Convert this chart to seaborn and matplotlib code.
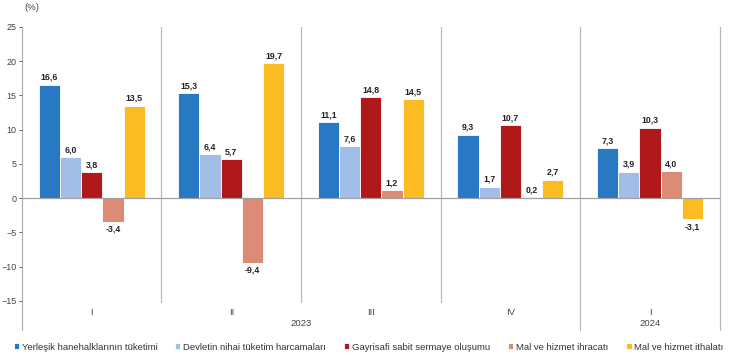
import pandas as pd
import seaborn as sns
import matplotlib.pyplot as plt
import matplotlib.transforms as mtransforms

# Quarterly growth rates of expenditure components (%)
quarters = ["I", "II", "III", "IV", "I"]
quarter_keys = ["2023-I", "2023-II", "2023-III", "2023-IV", "2024-I"]
series_names = [
    "Yerleşik hanehalklarının tüketimi",
    "Devletin nihai tüketim harcamaları",
    "Gayrisafi sabit sermaye oluşumu",
    "Mal ve hizmet ihracatı",
    "Mal ve hizmet ithalatı",
]
hanehalki = [16.6, 15.3, 11.1, 9.3, 7.3]
devlet = [6.0, 6.4, 7.6, 1.7, 3.9]
gsso = [3.8, 5.7, 14.8, 10.7, 10.3]
ihracat = [-3.4, -9.4, 1.2, 0.2, 4.0]
ithalat = [13.5, 19.7, 14.5, 2.7, -3.1]
years = ["2023", "2024"]
colors = ["#2878c4", "#a3bee6", "#b0191b", "#dc8b76", "#fbbb22"]

rows = []
for name, values in zip(series_names, [hanehalki, devlet, gsso, ihracat, ithalat]):
    for key, v in zip(quarter_keys, values):
        rows.append({"Çeyrek": key, "Seri": name, "Değer": v})
df = pd.DataFrame(rows)

sns.set_theme(style="white")
plt.rcParams["font.family"] = ["Liberation Sans", "DejaVu Sans"]

fig = plt.figure(figsize=(7.3, 3.6), dpi=100)
ax = fig.add_axes([0.03, 0.164, 0.956, 0.761])

sns.barplot(data=df, x="Çeyrek", y="Değer", hue="Seri", order=quarter_keys,
            hue_order=series_names, palette=colors, width=0.76, saturation=1,
            edgecolor="white", linewidth=0.6, ax=ax)

# data labels
for container in ax.containers:
    for bar in container:
        h = bar.get_height()
        x = bar.get_x() + bar.get_width() / 2
        va = "bottom" if h >= 0 else "top"
        off = 2 if h >= 0 else -2
        ax.annotate(f"{h:.1f}".replace(".", ","), (x, h), xytext=(0, off),
                    textcoords="offset points", ha="center", va=va,
                    fontsize=6.3, fontweight="bold", color="#222222")

ax.set_ylim(-15, 25)
ax.set_xlim(-0.5, 4.5)
ax.set_yticks(range(-15, 30, 5))
ax.set_xticks(range(len(quarters)))
ax.set_xticklabels(quarters)
ax.set_xlabel("")
ax.set_ylabel("")
ax.tick_params(axis="y", labelsize=6.5, colors="#444444", length=2.5, width=0.6,
               direction="out", left=True, pad=1.5)
ax.tick_params(axis="x", labelsize=6.8, colors="#444444", length=0, pad=5)
for s in ["top", "right", "bottom"]:
    ax.spines[s].set_visible(False)
ax.spines["left"].set_color("#b0b0b0")
ax.spines["left"].set_linewidth(0.9)
ax.axhline(0, color="#a0a0a0", lw=0.9, zorder=1)

trans = mtransforms.blended_transform_factory(ax.transData, ax.transAxes)
# quarter separators and year boundaries
for xs in [0.5, 1.5, 2.5, 3.5, 4.5]:
    low = -0.106 if xs in (3.5, 4.5) else -0.004
    ax.plot([xs, xs], [1.0, low], color="#b8b8b8", lw=0.9, transform=trans,
            clip_on=False, zorder=0)
ax.plot([-0.5, -0.5], [0, -0.106], color="#b0b0b0", lw=0.9, transform=trans,
        clip_on=False)
ax.text(1.5, -0.084, years[0], transform=trans, ha="center", va="center",
        fontsize=6.8, color="#444444")
ax.text(4.0, -0.084, years[1], transform=trans, ha="center", va="center",
        fontsize=6.8, color="#444444")

fig.text(0.034, 0.978, "(%)", fontsize=6.8, color="#444444", ha="left", va="center")

handles, labels = ax.get_legend_handles_labels()
ax.legend_.remove()
fig.legend(handles, labels, loc="center", bbox_to_anchor=(0.505, 0.036), ncol=5,
           frameon=False, fontsize=6.8, handlelength=0.55, handleheight=0.55,
           handletextpad=0.3, columnspacing=1.9, labelcolor="#333333")

fig.savefig("out.png", dpi=100)
